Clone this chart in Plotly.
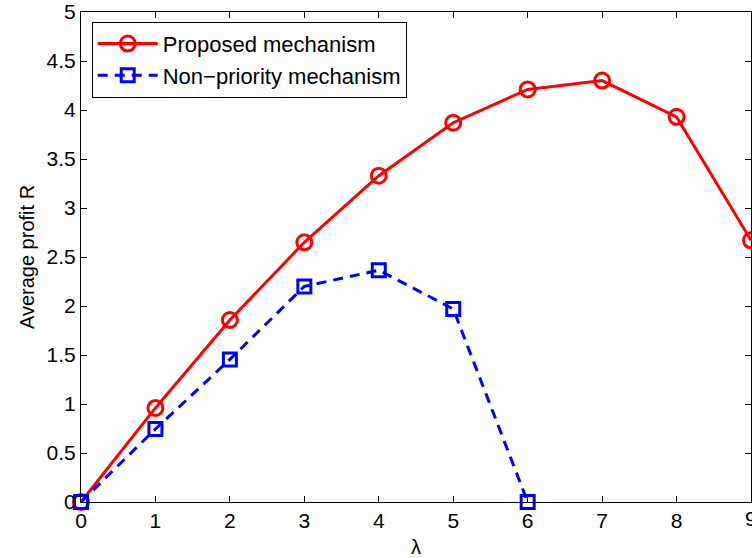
import plotly.graph_objects as go

lam = [0, 1, 2, 3, 4, 5, 6, 7, 8, 9]
proposed = [0, 0.96, 1.857, 2.65, 3.33, 3.87, 4.21, 4.30, 3.93, 2.67]
lam_np = [0, 1, 2, 3, 4, 5, 6]
nonpriority = [0, 0.745, 1.455, 2.20, 2.365, 1.97, 0]
xticks = [0, 1, 2, 3, 4, 5, 6, 7, 8]
yticks = [0, 0.5, 1, 1.5, 2, 2.5, 3, 3.5, 4, 4.5, 5]

FONT = "Liberation Sans, Arial, sans-serif"

fig = go.Figure()
fig.add_trace(go.Scatter(
    x=lam, y=proposed, mode="lines+markers", name="Proposed mechanism",
    line=dict(color="#ff0000", width=3),
    marker=dict(symbol="circle-open", size=15, color="#ff0000", line=dict(width=3)),
    cliponaxis=False,
))
fig.add_trace(go.Scatter(
    x=lam_np, y=nonpriority, mode="lines+markers", name="Non\u2212priority mechanism",
    line=dict(color="#0000ff", width=3, dash="10px,7px"),
    marker=dict(symbol="square-open", size=13, color="#0000ff", line=dict(width=3)),
    cliponaxis=False,
))

axis_common = dict(
    showline=True, linecolor="black", linewidth=1, mirror="allticks",
    ticks="inside", ticklen=6, tickcolor="black", tickwidth=1,
    showgrid=False, zeroline=False,
    tickfont=dict(family=FONT, size=21, color="black"),
)

fig.update_layout(
    width=752, height=558,
    margin=dict(l=81, r=1, t=12, b=56),
    paper_bgcolor="white", plot_bgcolor="white",
    xaxis=dict(range=[0, 9], tickmode="array", tickvals=lam,
               ticktext=[str(v) if v in xticks else "" for v in lam],
               title=dict(text="\u03bb", font=dict(family=FONT, size=20, color="black"), standoff=8),
               **axis_common),
    yaxis=dict(range=[0, 5], tickmode="array", tickvals=yticks,
               ticktext=[f"{v:g}" for v in yticks],
               title=dict(text="Average profit R", font=dict(family=FONT, size=20, color="black"), standoff=6),
               **axis_common),
    legend=dict(x=0.016, y=0.98, xanchor="left", yanchor="top",
                bordercolor="black", borderwidth=1, bgcolor="white",
                font=dict(family=FONT, size=22, color="black"),
                itemwidth=60, tracegroupgap=0),
    showlegend=True,
)

# the last tick label ("9") sits at the page edge and is cut off in the original
fig.add_annotation(x=lam[-1], xref="x", y=0, yref="paper", yanchor="top", yshift=-3,
                   text=str(lam[-1]), showarrow=False,
                   font=dict(family=FONT, size=21, color="black"))

fig.write_html("out.html")
